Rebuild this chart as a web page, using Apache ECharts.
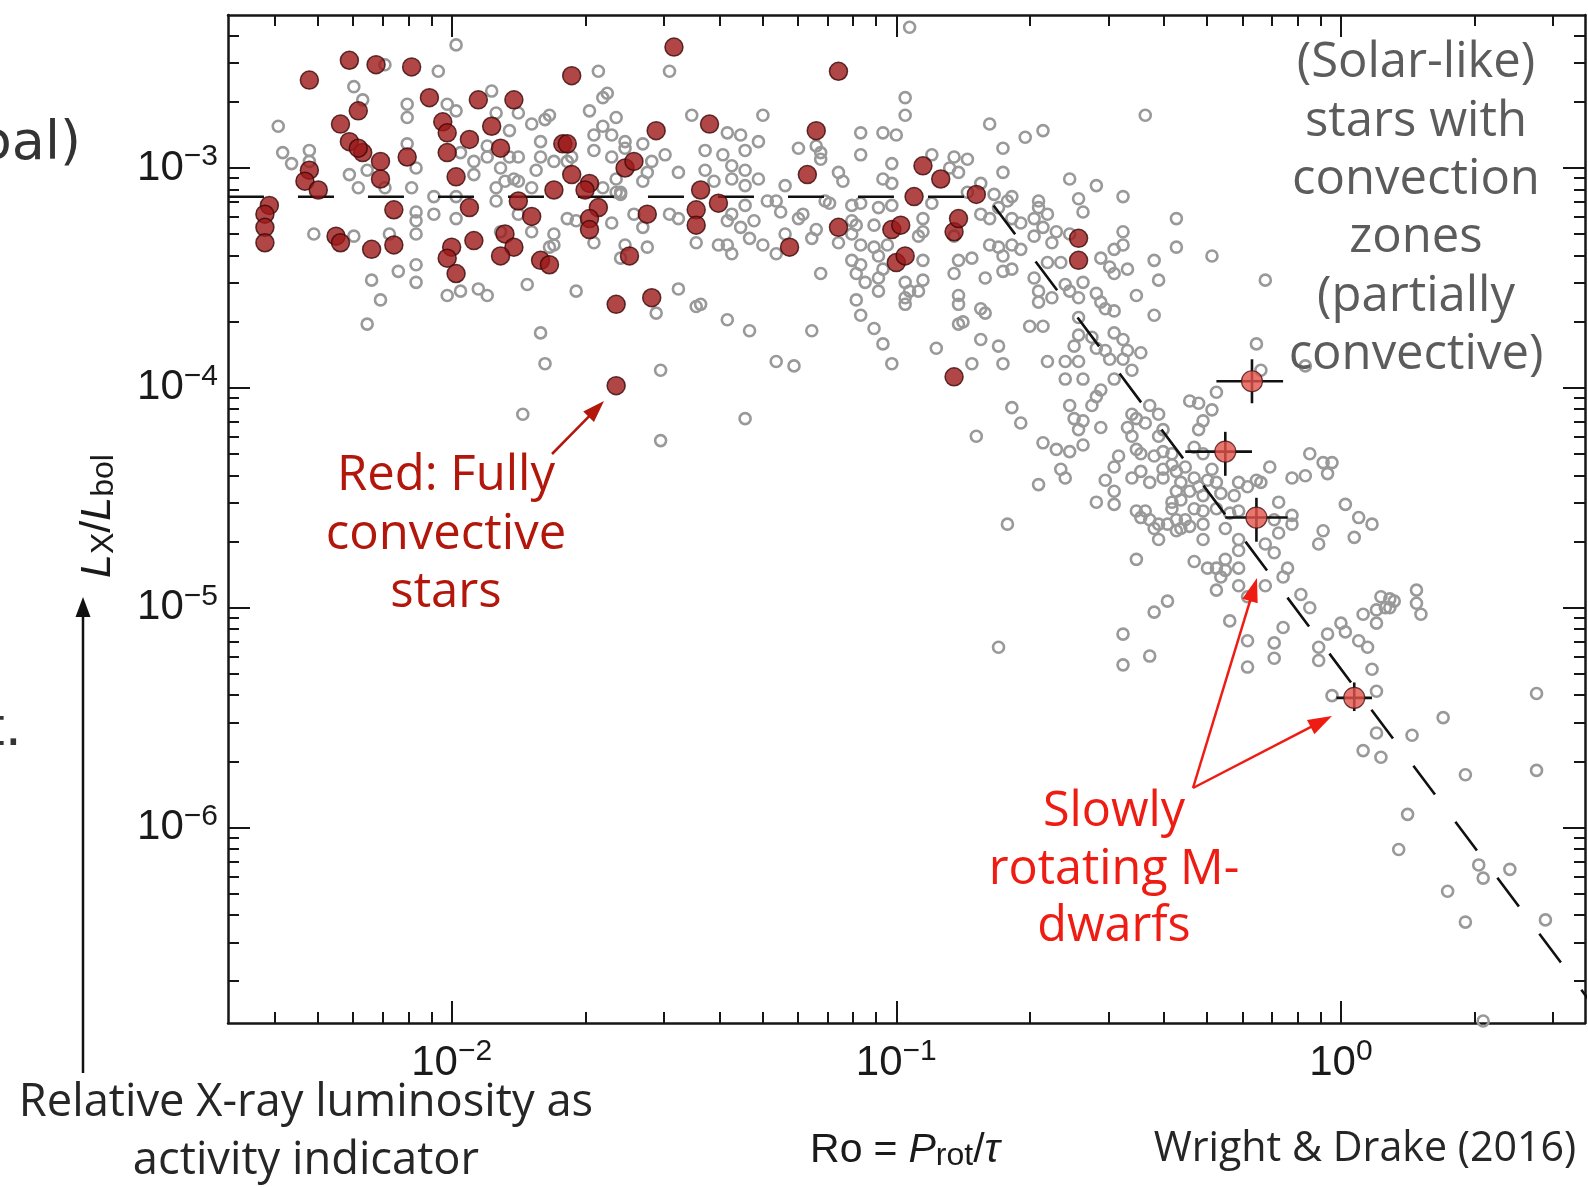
<!DOCTYPE html>
<html><head><meta charset="utf-8">
<script src="https://cdn.jsdelivr.net/npm/echarts@6/dist/echarts.min.js"></script>
<style>html,body{margin:0;padding:0;background:#fff;}#chart{width:1588px;height:1187px;}</style>
</head><body><div id="chart"></div>
<script>
// ---------------- DATA (log10 Ro, log10 LX/Lbol) ----------------
// Partially convective (solar-like) stars: grey open circles
const greyPoints = [
[-1.99,-2.44],[-2.15,-2.53],[-2.03,-2.56],[-1.67,-2.56],[-2.22,-2.63],[-2.20,-2.69],[-2.10,-2.71],[-2.10,-2.77],[-2.01,-2.71],[-1.99,-2.74],
[-1.91,-2.65],[-1.90,-2.75],[-1.85,-2.75],[-1.82,-2.80],[-1.79,-2.78],[-1.78,-2.76],[-1.69,-2.74],[-1.65,-2.66],[-1.66,-2.68],[-1.63,-2.77],
[-1.66,-2.81],[-1.87,-2.83],[-1.68,-2.85],[-1.64,-2.85],[-2.39,-2.81],[-2.38,-2.93],[-2.36,-2.98],[-2.32,-2.92],[-2.32,-2.97],[-2.23,-3.03],
[-2.21,-3.09],[-2.19,-3.01],[-2.15,-3.09],[-2.10,-2.89],[-2.08,-3.00],[-2.09,-3.09],[-1.98,-2.93],[-1.95,-2.97],[-1.95,-3.03],[-1.92,-2.90],
[-1.92,-2.95],[-1.89,-3.00],[-1.87,-2.95],[-1.85,-2.95],[-1.86,-3.05],[-1.88,-3.06],[-1.85,-3.06],[-1.90,-3.09],[-1.90,-3.15],[-1.80,-2.88],
[-1.80,-2.95],[-1.81,-3.01],[-1.82,-3.09],[-1.77,-2.97],[-1.74,-2.97],[-1.73,-2.95],[-1.68,-2.92],[-1.64,-2.95],[-1.63,-3.05],[-1.66,-3.09],
[-1.63,-3.11],[-1.61,-2.91],[-1.62,-3.11],[-2.04,-3.13],[-1.99,-3.13],[-2.04,-3.21],[-2.08,-3.20],[-2.08,-3.24],[-2.08,-3.30],[-1.99,-3.23],
[-1.85,-3.21],[-1.89,-3.29],[-1.82,-3.29],[-1.77,-3.30],[-1.77,-3.35],[-1.78,-3.36],[-1.74,-3.23],[-1.72,-3.24],[-1.64,-3.25],[-1.68,-3.34],
[-1.62,-3.41],[-2.31,-3.30],[-2.22,-3.31],[-2.14,-3.30],[-2.08,-3.44],[-2.12,-3.47],[-2.18,-3.51],[-2.16,-3.60],[-2.19,-3.71],[-2.08,-3.52],
[-2.01,-3.58],[-1.98,-3.56],[-1.94,-3.55],[-1.92,-3.58],[-1.83,-3.53],[-1.80,-3.75],[-1.72,-3.56],[-1.61,-3.35],
[-0.97,-2.36],[-1.51,-2.56],[-0.98,-2.68],[-0.98,-2.76],[-1.46,-2.76],[-1.30,-2.76],[-0.79,-2.80],[-1.08,-2.84],[-1.03,-2.84],[-1.00,-2.85],
[-1.35,-2.85],[-1.38,-2.84],[-1.31,-2.88],[-1.22,-2.91],[-1.34,-2.92],[-1.43,-2.92],[-1.39,-2.94],[-1.52,-2.94],[-1.61,-2.88],[-1.57,-2.89],
[-1.55,-2.97],[-1.49,-3.02],[-1.56,-3.02],[-1.57,-3.06],[-1.62,-3.12],[-1.43,-3.01],[-1.37,-2.99],[-1.34,-3.01],[-1.31,-3.05],[-1.37,-3.05],
[-1.34,-3.08],[-1.41,-3.06],[-1.18,-2.90],[-1.17,-2.93],[-1.17,-2.96],[-1.08,-2.94],[-1.01,-2.98],[-0.92,-2.94],[-0.87,-2.95],[-0.84,-2.96],
[-0.76,-2.91],[-0.86,-3.02],[-0.88,-3.00],[-1.13,-3.02],[-1.12,-3.06],[-1.03,-3.05],[-1.01,-3.07],[-1.25,-3.08],[-0.78,-3.12],[-1.16,-3.15],
[-1.15,-3.16],[-1.10,-3.17],[-1.08,-3.16],[-1.01,-3.17],[-1.04,-3.18],[-0.92,-3.16],[-0.84,-3.11],[-0.81,-3.07],[-0.79,-3.23],[-0.77,-3.18],
[-0.75,-3.15],[-1.59,-3.21],[-1.57,-3.27],[-1.51,-3.21],[-1.49,-3.23],[-1.38,-3.24],[-1.37,-3.21],[-1.32,-3.24],[-1.34,-3.17],[-1.29,-3.15],
[-1.26,-3.20],[-1.22,-3.23],[-1.21,-3.21],[-1.27,-3.15],[-1.10,-3.24],[-1.09,-3.26],[-1.05,-3.26],[-0.94,-3.23],[-0.94,-3.29],[-0.95,-3.31],
[-0.87,-3.31],[-0.81,-3.21],[-1.13,-3.34],[-1.10,-3.30],[-1.19,-3.32],[-1.18,-3.28],[-1.25,-3.30],[-1.35,-3.27],[-1.33,-3.32],[-1.45,-3.34],
[-1.40,-3.35],[-1.37,-3.39],[-1.38,-3.35],[-1.30,-3.35],[-1.27,-3.39],[-1.56,-3.36],[-1.08,-3.35],[-1.05,-3.36],[-1.04,-3.40],[-1.02,-3.35],
[-1.03,-3.46],[-1.08,-3.44],[-1.10,-3.42],[-1.09,-3.48],[-1.07,-3.52],[-1.04,-3.50],[-1.04,-3.56],[-0.98,-3.52],[-0.97,-3.56],[-0.98,-3.59],
[-0.94,-3.42],[-0.94,-3.51],[-0.86,-3.42],[-0.83,-3.41],[-0.87,-3.48],[-0.80,-3.50],[-0.79,-3.35],[-0.77,-3.36],[-0.76,-3.40],[-0.76,-3.47],
[-1.17,-3.48],[-1.49,-3.55],[-1.45,-3.63],[-1.44,-3.62],[-1.54,-3.66],[-1.38,-3.69],[-1.33,-3.74],[-1.19,-3.74],[-1.09,-3.60],[-1.08,-3.67],
[-1.05,-3.73],[-0.98,-3.62],[-0.95,-3.56],[-0.86,-3.58],[-0.86,-3.62],[-0.86,-3.71],[-0.85,-3.70],[-0.81,-3.64],[-0.80,-3.66],
[-0.44,-2.76],[-0.71,-2.86],[-0.67,-2.83],[-0.76,-3.02],[-0.61,-3.05],[-0.55,-3.08],[-0.49,-3.13],[-0.59,-3.14],[-0.58,-3.20],[-0.74,-3.13],
[-0.68,-3.15],[-0.68,-3.18],[-0.66,-3.21],[-0.69,-3.23],[-0.72,-3.25],[-0.74,-3.23],[-0.64,-3.29],[-0.65,-3.34],[-0.67,-3.27],[-0.69,-3.31],
[-0.61,-3.30],[-0.74,-3.35],[-0.72,-3.37],[-0.74,-3.46],[-0.66,-3.43],[-0.63,-3.43],[-0.69,-3.50],[-0.54,-3.41],[-0.51,-3.37],[-0.49,-3.29],
[-0.49,-3.35],[-0.52,-3.45],[-0.51,-3.48],[-0.48,-3.46],[-0.42,-3.42],[-0.41,-3.51],[-0.37,-3.23],[-0.37,-3.36],[-0.29,-3.40],[-0.17,-3.51],
[-0.46,-3.58],[-0.42,-3.67],[-0.58,-3.52],[-0.62,-3.53],[-0.61,-3.56],[-0.59,-3.59],[-0.55,-3.57],[-0.54,-3.61],[-0.53,-3.64],[-0.51,-3.65],
[-0.68,-3.56],[-0.68,-3.61],[-0.65,-3.59],[-0.70,-3.72],[-0.67,-3.72],[-0.51,-3.75],[-0.59,-3.68],
[-0.77,-3.81],[-0.76,-3.89],[-0.66,-3.88],[-0.59,-3.76],[-0.60,-3.81],[-0.56,-3.77],[-0.55,-3.82],[-0.49,-3.78],[-0.48,-3.83],[-0.53,-3.83],
[-0.52,-3.87],[-0.45,-3.84],[-0.49,-3.87],[-0.47,-3.92],[-0.51,-3.96],[-0.62,-3.88],[-0.59,-3.88],[-0.58,-3.96],[-0.62,-3.96],[-0.54,-4.01],
[-0.55,-4.04],[-0.56,-4.08],[-0.61,-4.08],[-0.60,-4.14],[-0.58,-4.15],[-0.59,-4.19],[-0.74,-4.09],[-0.72,-4.16],[-0.67,-4.25],[-0.64,-4.28],
[-0.61,-4.29],[-0.58,-4.26],[-0.63,-4.37],[-0.62,-4.41],[-0.68,-4.44],[-0.54,-4.18],[-0.48,-4.18],[-0.47,-4.12],[-0.46,-4.14],[-0.43,-4.08],
[-0.41,-4.12],[-0.40,-4.19],[-0.44,-4.16],[-0.41,-4.22],[-0.47,-4.22],[-0.46,-4.28],[-0.45,-4.30],[-0.42,-4.31],[-0.40,-4.29],[-0.38,-4.30],
[-0.38,-4.35],[-0.40,-4.37],[-0.45,-4.38],[-0.47,-4.41],[-0.50,-4.31],[-0.51,-4.36],[-0.53,-4.42],[-0.51,-4.47],[-0.55,-4.52],[-0.51,-4.53],
[-0.43,-4.43],[-0.40,-4.41],[-0.37,-4.38],[-0.35,-4.36],[-0.33,-4.41],[-0.36,-4.43],[-0.37,-4.47],[-0.34,-4.47],[-0.36,-4.51],[-0.38,-4.52],
[-0.38,-4.55],[-0.33,-4.55],[-0.31,-4.56],[-0.32,-4.45],[-0.29,-4.37],[-0.30,-4.42],[-0.31,-4.49],[-0.28,-4.43],[-0.27,-4.48],[-0.28,-4.55],
[-0.34,-4.06],[-0.32,-4.07],[-0.29,-4.10],[-0.31,-4.15],[-0.32,-4.19],[-0.33,-4.27],[-0.28,-4.02],[-0.31,-4.30],[-0.19,-3.80],[-0.18,-3.92],
[-0.23,-4.43],[-0.21,-4.45],[-0.19,-4.42],[-0.18,-4.43],[-0.24,-4.49],[-0.25,-4.57],[-0.23,-4.56],[-0.16,-4.36],[-0.14,-4.52],[-0.11,-4.41],
[-0.08,-4.40],[-0.07,-4.30],[-0.04,-4.34],[-0.02,-4.34],[-0.03,-4.39],[0.01,-4.53],[0.04,-4.59],[0.07,-4.62],[-0.04,-4.65],[-0.05,-4.71],
[0.03,-4.68],[-0.11,-4.58],[-0.11,-4.62],[-0.15,-4.60],[-0.14,-4.66],[-0.15,-4.75],[-0.17,-4.71],[-0.46,-4.56],[-0.44,-4.56],[-0.45,-4.59],
[-0.43,-4.60],[-0.41,-4.62],[-0.39,-4.62],[-0.42,-4.64],[-0.41,-4.69],[-0.37,-4.65],[-0.36,-4.64],[-0.34,-4.63],[-0.31,-4.62],[-0.37,-4.60],
[-0.35,-4.60],[-0.31,-4.69],[-0.26,-4.64],[-0.23,-4.69],[-0.23,-4.74],[-0.26,-4.78],[-0.33,-4.79],[-0.30,-4.82],[-0.28,-4.82],[-0.26,-4.83],
[-0.23,-4.82],[-0.27,-4.86],[-0.28,-4.92],[-0.23,-4.90],[-0.21,-4.95],[-0.17,-4.90],[-0.13,-4.86],[-0.12,-4.82],[-0.13,-5.09],[-0.15,-5.16],
[-0.15,-5.23],[-0.21,-5.15],[-0.25,-5.06],[-0.21,-5.27],[-0.09,-4.94],[-0.07,-5.00],[-0.03,-5.12],[0.00,-5.07],[0.01,-5.11],[0.04,-5.15],
[0.06,-5.18],[0.07,-5.28],[0.05,-5.03],[0.08,-5.01],[0.08,-5.07],[0.09,-4.95],[0.11,-4.96],[0.12,-4.97],[-0.05,-5.24],[-0.39,-4.97],
[-0.42,-5.02],[-0.49,-5.12],[-0.49,-5.26],[-0.43,-5.22],[-0.46,-4.78],[-0.75,-4.62],[-0.77,-5.18],[0.17,-4.92],[0.17,-4.98],[-0.08,-3.90],
[-0.05,-5.18],[0.11,-5.00],[0.10,-5.00],[0.18,-5.03],
[0.08,-5.38],[-0.02,-5.40],[0.08,-5.57],[0.16,-5.58],[0.23,-5.50],[0.05,-5.65],[0.09,-5.68],[0.28,-5.76],[0.44,-5.39],[0.44,-5.74],
[0.15,-5.94],[0.13,-6.10],[0.31,-6.17],[0.32,-6.23],[0.38,-6.19],[0.24,-6.29],[0.28,-6.43],[0.46,-6.42],[0.32,-6.88],
[-1.79,-3.89],[-1.53,-3.92],[-1.84,-4.12],[-1.53,-4.24],[-1.34,-4.14],[-1.27,-3.88],[-1.23,-3.90],[-1.03,-3.80],[-1.01,-3.89],[-0.91,-3.82],
[-0.81,-3.78],[-0.83,-3.89],[-0.82,-4.22]
];
// Fully convective stars: dark red filled circles
const redPoints = [
[-2.32,-2.60],[-2.23,-2.51],[-2.17,-2.53],[-2.09,-2.54],[-2.21,-2.74],[-2.25,-2.80],[-2.23,-2.88],[-2.20,-2.93],[-2.21,-2.91],[-2.16,-2.97],
[-2.16,-3.05],[-2.32,-3.01],[-2.33,-3.06],[-2.30,-3.10],[-2.10,-2.95],[-2.05,-2.68],[-2.02,-2.79],[-2.01,-2.84],[-2.01,-2.93],[-1.99,-3.04],
[-2.13,-3.19],[-2.26,-3.31],[-2.25,-3.34],[-2.18,-3.37],[-2.13,-3.35],[-2.00,-3.36],[-2.01,-3.41],[-1.99,-3.48],[-1.94,-2.69],[-1.96,-2.87],
[-1.91,-2.81],[-1.89,-2.91],[-1.86,-2.69],[-1.96,-3.18],[-1.95,-3.33],[-1.88,-3.30],[-1.86,-3.36],[-1.89,-3.40],[-1.85,-3.15],[-1.82,-3.22],
[-1.80,-3.42],[-1.78,-3.44],[-1.77,-3.10],[-1.75,-2.89],[-1.74,-2.89],[-1.73,-2.58],[-1.73,-3.03],[-1.69,-3.07],[-1.70,-3.10],[-1.67,-3.18],
[-1.69,-3.23],[-1.69,-3.28],[-1.61,-3.00],[-1.59,-2.97],[-1.60,-3.40],[-1.63,-3.62],[-1.55,-3.59],[-1.54,-2.83],[-1.56,-3.21],[-1.45,-3.19],
[-1.45,-3.26],[-1.44,-3.10],[-1.42,-2.80],[-1.40,-3.16],[-1.50,-2.45],[-1.24,-3.36],[-1.20,-3.03],[-1.18,-2.83],[-1.13,-2.56],[-1.13,-3.27],
[-1.01,-3.28],[-0.99,-3.26],[-1.00,-3.43],[-0.98,-3.40],[-0.96,-3.13],[-0.94,-2.99],[-0.90,-3.05],[-0.87,-3.29],[-0.86,-3.23],[-0.82,-3.12],
[-0.87,-3.95],[-0.59,-3.32],[-0.59,-3.42],[-1.63,-3.99],[-2.41,-3.17],[-2.42,-3.21],[-2.42,-3.27],[-2.42,-3.34]
];
// Slowly rotating M dwarfs with error bars
const mdLogRo   = [-0.20, -0.26, -0.19, 0.03];
const mdLogRx   = [-3.97, -4.29, -4.59, -5.41];
const mdLogRoLo = [-0.28, -0.35, -0.26, -0.01];
const mdLogRoHi = [-0.13, -0.20, -0.12, 0.07];
const mdLogRxLo = [-4.07, -4.40, -4.70, -5.47];
const mdLogRxHi = [-3.87, -4.20, -4.50, -5.34];
// Saturated / unsaturated activity-rotation relation (dashed)
const modelRo = [0.00314, 0.16, 3.6];
const modelRx = [7.4e-4, 7.4e-4, 1.66e-7];
// Tick labels
const xMajorTicks = [0.01, 0.1, 1];
const yMajorTicks = [1e-6, 1e-5, 1e-4, 1e-3];

// ---------------- CHART ----------------
const X_MIN = Math.pow(10, -2.503), X_MAX = Math.pow(10, 0.549);
const Y_MIN = Math.pow(10, -6.889), Y_MAX = Math.pow(10, -2.304);
const p10 = v => Math.pow(10, v);
function minorTicks(lo, hi) {
  const out = [];
  for (let e = Math.floor(Math.log10(lo)); e <= Math.ceil(Math.log10(hi)); e++)
    for (let m = 2; m <= 9; m++) { const v = m * Math.pow(10, e); if (v > lo && v < hi) out.push(v); }
  return out;
}
const xMinor = minorTicks(X_MIN, X_MAX), yMinor = minorTicks(Y_MIN, Y_MAX);
const AX = '#161616';
const expLabel = v => { const e = Math.round(Math.log10(v)); return '{b|10}{s|' + (e < 0 ? '\u2212' + (-e) : e) + '}'; };
const tickRich = {
  b: { fontFamily: 'Liberation Sans', fontSize: 42, color: '#1a1a1a', lineHeight: 52 },
  s: { fontFamily: 'Liberation Sans', fontSize: 30, color: '#1a1a1a', verticalAlign: 'top', lineHeight: 30 }
};
function axis(kind, pos, major, withLine, withLabel) {
  const isX = kind === 'x';
  return {
    type: 'log', logBase: 10, gridIndex: 0, position: pos,
    min: isX ? X_MIN : Y_MIN, max: isX ? X_MAX : Y_MAX,
    axisLine: { show: withLine, onZero: false, lineStyle: { color: AX, width: 2.5 } },
    axisTick: { show: true, inside: true, length: major ? 22 : 11, customValues: major ? (isX ? xMajorTicks : yMajorTicks) : (isX ? xMinor : yMinor),
                lineStyle: { color: AX, width: 2 } },
    axisLabel: withLabel ? { show: true, customValues: isX ? xMajorTicks : yMajorTicks, formatter: expLabel, rich: tickRich,
                 margin: isX ? 14 : 10, fontSize: 42 } : { show: false },
    splitLine: { show: false }, minorTick: { show: false }
  };
}
function arrowEls(x1, y1, x2, y2, color, lw, hl, hw) {
  const dx = x2 - x1, dy = y2 - y1, L = Math.hypot(dx, dy), ux = dx / L, uy = dy / L, px = -uy, py = ux;
  const bx = x2 - ux * hl, by = y2 - uy * hl;
  return [
    { type: 'line', z: 100, shape: { x1: x1, y1: y1, x2: bx + ux * 2, y2: by + uy * 2 }, style: { stroke: color, lineWidth: lw } },
    { type: 'polygon', z: 100, shape: { points: [[x2, y2], [bx + px * hw / 2, by + py * hw / 2], [bx - px * hw / 2, by - py * hw / 2]] }, style: { fill: color } }
  ];
}
const FONT = 'Open Sans';
const DARKRED = '#b3160b', RED = '#ee1c12';
const titleRich = (main, sub, drop, pad) => ({
  n: { fontFamily: 'Liberation Sans', fontSize: main, fill: '#1a1a1a', lineHeight: main + 2 },
  e: { fontFamily: 'Liberation Sans', fontSize: main, fill: '#1a1a1a', lineHeight: main + 2, padding: [0, pad, 0, pad] },
  i: { fontFamily: 'Liberation Sans', fontStyle: 'italic', fontSize: main, fill: '#1a1a1a', lineHeight: main + 2 },
  sub: { fontFamily: 'Liberation Sans', fontSize: sub, fill: '#1a1a1a', verticalAlign: 'bottom', lineHeight: sub, padding: [drop, 0, 0, 0] }
});
const graphics = [
  { type: 'text', z: 100, x: 1416, y: 34, style: { text: '(Solar-like)\nstars with\nconvection\nzones\n(partially\nconvective)', fill: '#5c5c5c',
    fontFamily: FONT, fontSize: 49, lineHeight: 58.4, align: 'center', verticalAlign: 'top' } },
  { type: 'text', z: 100, x: 446, y: 447, style: { text: 'Red: Fully\nconvective\nstars', fill: DARKRED,
    fontFamily: FONT, fontSize: 49, lineHeight: 58.4, align: 'center', verticalAlign: 'top' } },
  { type: 'text', z: 100, x: 1114, y: 783, style: { text: 'Slowly\nrotating M-\ndwarfs', fill: RED,
    fontFamily: FONT, fontSize: 48.5, lineHeight: 57.8, align: 'center', verticalAlign: 'top' } },
  { type: 'text', z: 100, x: 306, y: 1074, style: { text: 'Relative X-ray luminosity as\nactivity indicator', fill: '#262626',
    fontFamily: FONT, fontSize: 45.3, lineHeight: 58, align: 'center', verticalAlign: 'top' } },
  { type: 'text', z: 100, x: 1365, y: 1149, style: { text: 'Wright & Drake (2016)', fill: '#262626',
    fontFamily: FONT, fontSize: 41.2, align: 'center', verticalAlign: 'middle' } },
  { type: 'text', z: 100, x: 81, y: 145, style: { text: 'bal)', fill: '#333', fontFamily: 'DejaVu Sans', fontSize: 54, align: 'right', verticalAlign: 'middle' } },
  { type: 'text', z: 100, x: 22, y: 731, style: { text: 't.', fill: '#333', fontFamily: 'DejaVu Sans', fontSize: 54, align: 'right', verticalAlign: 'middle' } },
  // axis titles
  { type: 'text', z: 100, x: 905, y: 1151, style: { text: '{n|Ro}{e|=}{i|P}{sub|rot}{n|/}{i|\u03c4}', align: 'center', verticalAlign: 'middle',
    rich: titleRich(41, 32, 22, 11) } },
  { type: 'text', z: 100, x: 98, y: 516, rotation: Math.PI / 2, style: { text: '{i|L}{sub|X}{n|/}{i|L}{sub|bol}', align: 'center', verticalAlign: 'middle',
    rich: titleRich(43, 32, 26, 0) } }
].concat(
  arrowEls(552, 454, 604, 401, DARKRED, 2.5, 22, 15),
  arrowEls(1193, 788, 1257, 578, RED, 2.5, 24, 16),
  arrowEls(1193, 788, 1332, 716, RED, 2.5, 24, 16),
  arrowEls(83, 1073, 83, 597, '#111', 2.5, 20, 15)
);

const chart = echarts.init(document.getElementById('chart'), null, { renderer: 'canvas' });
chart.setOption({
  animation: false,
  backgroundColor: '#ffffff',
  grid: { left: 228, top: 15, width: 1357, height: 1008, containLabel: false },
  xAxis: [ axis('x', 'bottom', true, true, true), axis('x', 'bottom', false, false, false),
           axis('x', 'top', true, true, false), axis('x', 'top', false, false, false) ],
  yAxis: [ axis('y', 'left', true, true, true), axis('y', 'left', false, false, false),
           axis('y', 'right', true, true, false), axis('y', 'right', false, false, false) ],
  series: [
    { type: 'scatter', name: 'partially convective', xAxisIndex: 0, yAxisIndex: 0, z: 2,
      data: greyPoints.map(p => [p10(p[0]), p10(p[1])]), symbol: 'circle', symbolSize: 11,
      itemStyle: { color: 'rgba(255,255,255,0)', borderColor: '#999999', borderWidth: 2.6, opacity: 1 } },
    { type: 'line', name: 'relation', xAxisIndex: 0, yAxisIndex: 0, z: 3, showSymbol: false, symbol: 'none',
      data: modelRo.map((r, i) => [r, modelRx[i]]),
      lineStyle: { color: '#111', width: 2.6, type: [36, 34] } },
    { type: 'scatter', name: 'fully convective', xAxisIndex: 0, yAxisIndex: 0, z: 4,
      data: redPoints.map(p => [p10(p[0]), p10(p[1])]), symbol: 'circle', symbolSize: 18,
      itemStyle: { color: '#9c1818', borderColor: '#3a0808', borderWidth: 1.5 } },
    { type: 'custom', name: 'errors', xAxisIndex: 0, yAxisIndex: 0, z: 5,
      data: mdLogRo.map((r, i) => [p10(r), p10(mdLogRx[i]), p10(mdLogRoLo[i]), p10(mdLogRoHi[i]), p10(mdLogRxLo[i]), p10(mdLogRxHi[i])]),
      encode: { x: [0, 2, 3], y: [1, 4, 5] },
      renderItem: function (params, api) {
        const l = api.coord([api.value(2), api.value(1)]), r = api.coord([api.value(3), api.value(1)]);
        const b = api.coord([api.value(0), api.value(4)]), t = api.coord([api.value(0), api.value(5)]);
        return { type: 'group', children: [
          { type: 'line', shape: { x1: l[0], y1: l[1], x2: r[0], y2: r[1] }, style: { stroke: '#111', lineWidth: 2.6 } },
          { type: 'line', shape: { x1: b[0], y1: b[1], x2: t[0], y2: t[1] }, style: { stroke: '#111', lineWidth: 2.6 } } ] };
      } },
    { type: 'scatter', name: 'slow M dwarfs', xAxisIndex: 0, yAxisIndex: 0, z: 6,
      data: mdLogRo.map((r, i) => [p10(r), p10(mdLogRx[i])]), symbol: 'circle', symbolSize: 21,
      itemStyle: { color: '#e2544b', borderColor: '#4a1010', borderWidth: 1.2 } }
  ],
  graphic: graphics
});
</script>
</body></html>
